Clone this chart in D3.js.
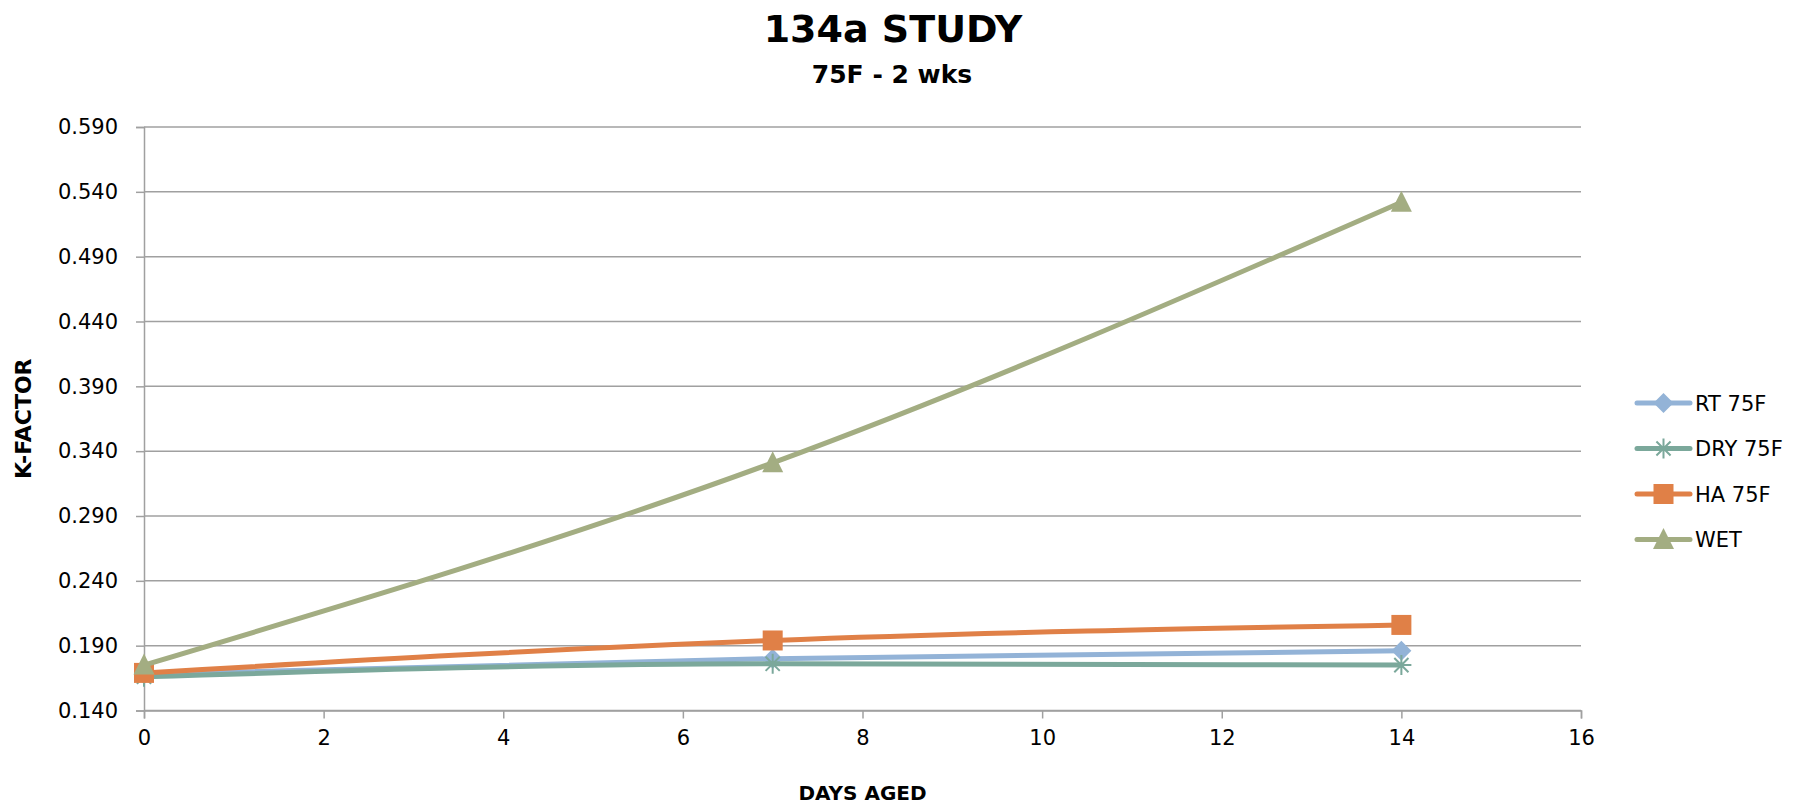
<!DOCTYPE html>
<html>
<head>
<meta charset="utf-8">
<script src="https://cdn.jsdelivr.net/npm/d3@7"></script>
<style>
  html, body { margin: 0; padding: 0; background: #fff; }
  svg { display: block; font-family: "DejaVu Sans", sans-serif; }
</style>
</head>
<body>
<svg id="chart" width="1805" height="808"></svg>
<script>
const days = [0, 7, 14];
const seriesNames = ["RT 75F", "DRY 75F", "HA 75F", "WET"];
const rtValues  = [0.168, 0.180, 0.186];
const dryValues = [0.166, 0.176, 0.175];
const haValues  = [0.169, 0.194, 0.206];
const wetValues = [0.175, 0.331, 0.532];
const yTicks = [0.140, 0.190, 0.240, 0.290, 0.340, 0.390, 0.440, 0.490, 0.540, 0.590];
const xTicks = [0, 2, 4, 6, 8, 10, 12, 14, 16];
const colors = ["#93B3D7", "#7BA89B", "#E08047", "#A3AD82"];
const markers = ["diamond", "star", "square", "triangle"];
const chartTitle = "134a STUDY";
const chartSubtitle = "75F - 2 wks";
const xTitle = "DAYS AGED";
const yTitle = "K-FACTOR";

const series = [rtValues, dryValues, haValues, wetValues].map((vals, i) => ({
  name: seriesNames[i], color: colors[i], marker: markers[i],
  points: vals.map((v, j) => ({ x: days[j], y: v }))
}));

const svg = d3.select("#chart");
const m = { left: 144, right: 1581, top: 127, bottom: 710.5 };
const x = d3.scaleLinear().domain([0, 16]).range([m.left, m.right]);
const y = d3.scaleLinear().domain([0.140, 0.590]).range([m.bottom, m.top]);
const gridColor = "#A0A0A0";

// gridlines
svg.append("g").selectAll("line").data(yTicks).join("line")
  .attr("x1", m.left).attr("x2", m.right)
  .attr("y1", d => y(d)).attr("y2", d => y(d))
  .attr("stroke", gridColor).attr("stroke-width", 1.5);

// y axis
const yAxis = svg.append("g").attr("transform", `translate(${m.left},0)`)
  .call(d3.axisLeft(y).tickValues(yTicks).tickFormat(d3.format(".3f")).tickSize(8).tickPadding(18));
yAxis.select(".domain").attr("stroke", gridColor).attr("stroke-width", 1.5);
yAxis.selectAll(".tick line").attr("stroke", gridColor).attr("stroke-width", 1.5);
yAxis.selectAll("text").attr("font-size", 21).attr("fill", "#000").attr("font-family", "DejaVu Sans");

// x axis
const xAxis = svg.append("g").attr("transform", `translate(0,${m.bottom})`)
  .call(d3.axisBottom(x).tickValues(xTicks).tickSize(8).tickPadding(12));
xAxis.select(".domain").attr("stroke", gridColor).attr("stroke-width", 1.5);
xAxis.selectAll(".tick line").attr("stroke", gridColor).attr("stroke-width", 1.5);
xAxis.selectAll("text").attr("font-size", 21).attr("fill", "#000").attr("font-family", "DejaVu Sans");

// marker drawing
function drawMarker(g, type, color, size) {
  if (type === "diamond") {
    const r = size / 2;
    g.append("path").attr("d", `M0,${-r} L${r},0 L0,${r} L${-r},0 Z`).attr("fill", color);
  } else if (type === "square") {
    g.append("rect").attr("x", -size / 2).attr("y", -size / 2)
      .attr("width", size).attr("height", size).attr("fill", color);
  } else if (type === "triangle") {
    const s = size * 1.05;
    g.append("path").attr("d", `M0,${-s * 0.55} L${s / 2},${s * 0.45} L${-s / 2},${s * 0.45} Z`)
      .attr("fill", color);
  } else if (type === "star") {
    const r = size / 2;
    const path = [];
    for (let k = 0; k < 4; k++) {
      const a = k * Math.PI / 4;
      path.push(`M${-r * Math.cos(a)},${-r * Math.sin(a)} L${r * Math.cos(a)},${r * Math.sin(a)}`);
    }
    g.append("path").attr("d", path.join(" ")).attr("stroke", color).attr("stroke-width", 2).attr("fill", "none");
  }
}
const markerSize = { diamond: 20, star: 20, square: 20, triangle: 20 };

// lines
const line = d3.line().x(d => x(d.x)).y(d => y(d.y)).curve(d3.curveMonotoneX);
const sg = svg.append("g").selectAll("g").data(series).join("g");
sg.append("path").attr("d", d => line(d.points))
  .attr("fill", "none").attr("stroke", d => d.color).attr("stroke-width", 5)
  .attr("stroke-linejoin", "round").attr("stroke-linecap", "round");
sg.each(function (s) {
  const g = d3.select(this);
  s.points.forEach(p => {
    const mg = g.append("g").attr("transform", `translate(${x(p.x)},${y(p.y)})`);
    drawMarker(mg, s.marker, s.color, markerSize[s.marker]);
  });
});

// legend
const lg = svg.append("g");
const legY0 = 403, legDy = 45.5;
series.forEach((s, i) => {
  const gy = legY0 + i * legDy;
  lg.append("line").attr("x1", 1637).attr("x2", 1690).attr("y1", gy).attr("y2", gy)
    .attr("stroke", s.color).attr("stroke-width", 5).attr("stroke-linecap", "round");
  const mg = lg.append("g").attr("transform", `translate(1663.5,${gy})`);
  drawMarker(mg, s.marker, s.color, markerSize[s.marker]);
  lg.append("text").attr("x", 1695).attr("y", gy).attr("dy", "0.36em")
    .attr("font-size", 21).attr("fill", "#000").text(s.name);
});

// titles
svg.append("text").attr("x", 893).attr("y", 42).attr("text-anchor", "middle")
  .attr("font-size", 38).attr("font-weight", "bold").text(chartTitle);
svg.append("text").attr("x", 892).attr("y", 83).attr("text-anchor", "middle")
  .attr("font-size", 25).attr("font-weight", "bold").text(chartSubtitle);
svg.append("text").attr("x", (m.left + m.right) / 2).attr("y", 800).attr("text-anchor", "middle")
  .attr("font-size", 20).attr("font-weight", "bold").text(xTitle);
svg.append("text").attr("transform", `translate(31,${(m.top + m.bottom) / 2}) rotate(-90)`)
  .attr("text-anchor", "middle").attr("font-size", 22).attr("font-weight", "bold").text(yTitle);
</script>
</body>
</html>
